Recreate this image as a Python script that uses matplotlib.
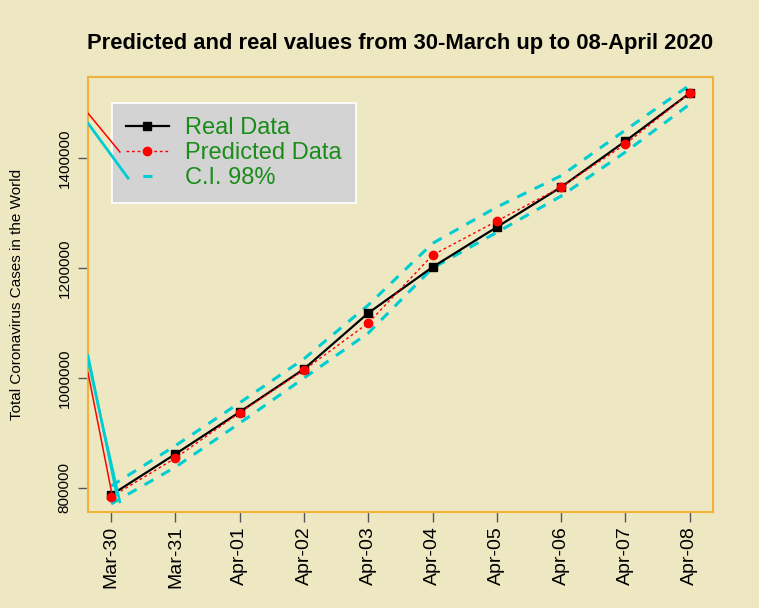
"""Predicted vs real world coronavirus cases, 30 March - 08 April 2020."""

import matplotlib

matplotlib.use("Agg")
import matplotlib.pyplot as plt
from matplotlib.lines import Line2D

dates = ["Mar-30", "Mar-31", "Apr-01", "Apr-02", "Apr-03",
         "Apr-04", "Apr-05", "Apr-06", "Apr-07", "Apr-08"]
real = [787300, 861800, 938200, 1016400, 1118200,
        1201800, 1274500, 1347300, 1430900, 1518200]
predicted = [783600, 854500, 937000, 1014500, 1100000,
             1223600, 1285500, 1347300, 1425500, 1518200]
ci_upper = [803600, 877000, 955000, 1035000, 1132700,
            1245000, 1311000, 1368000, 1451000, 1532700]
ci_lower = [771000, 838000, 918000, 1000000, 1081800,
            1200000, 1265000, 1331000, 1411000, 1498000]

BG = "#EEE8C2"
BOX = "#F0B23A"
CYAN = "#00CDD2"
GREEN = "#1A8C1A"

plt.rcParams["font.family"] = ["Liberation Sans", "DejaVu Sans"]

fig = plt.figure(figsize=(7.59, 6.08), dpi=100, facecolor=BG)
ax = fig.add_axes([0.116, 0.158, 0.823, 0.715], facecolor=BG)

x = list(range(len(dates)))
ax.plot(x, ci_upper, color=CYAN, lw=2.2, dashes=(3.3, 3), zorder=2)
ax.plot(x, ci_lower, color=CYAN, lw=2.2, dashes=(3.3, 3), zorder=2)
ax.plot(x, real, color="black", lw=1.6, marker="s", ms=5.5, zorder=3)
ax.plot(x, predicted, color="red", lw=1, ls=(0, (2, 2)), marker="o",
        ms=6, zorder=4)

# stray segments visible in the original image near the left border
stray = [
    ("red", 1.1, (0.0, 0.038), (0.32, 0.043)),
    (CYAN, 1.8, (0.0, 0.046), (0.360, 0.039)),
    (CYAN, 1.8, (0.0, 0.051), (0.348, 0.023)),
    ("red", 1.1, (0.0, 0.051), (0.917, 0.828)),
    (CYAN, 2.0, (0.0, 0.064), (0.894, 0.768)),
]
for col, lw, xs, ys in stray:
    ax.add_line(Line2D(xs, ys, color=col, lw=lw, transform=ax.transAxes,
                       zorder=10))

ax.set_xlim(-0.36, 9.36)
ax.set_ylim(756400, 1547300)
ax.set_xticks(x)
ax.set_xticklabels(dates, rotation=90, fontsize=14)
ax.set_yticks([800000, 1000000, 1200000, 1400000])
ax.set_yticklabels(["800000", "1000000", "1200000", "1400000"],
                   rotation=90, va="center", fontsize=11)
ax.tick_params(axis="both", direction="out", length=7, width=1,
               color="#555555", pad=3)
ax.tick_params(axis="y", pad=5)
for sp in ax.spines.values():
    sp.set_color(BOX)
    sp.set_linewidth(1.5)

ax.set_ylabel("Total Coronavirus Cases in the World", fontsize=11,
              labelpad=24)
fig.suptitle("Predicted and real values from 30-March up to 08-April 2020",
             x=0.527, y=0.945, fontsize=15.8, fontweight="bold")

handles = [
    Line2D([], [], color="black", lw=1.6, marker="s", ms=5.5),
    Line2D([], [], color="red", lw=1, ls=(0, (2, 2)), marker="o", ms=6),
    Line2D([], [], color=CYAN, lw=2.2, ls=(0, (0, 5.5, 3, 30))),
]
leg = ax.legend(handles, ["Real Data", "Predicted Data", "C.I. 98%"],
                loc="upper left", bbox_to_anchor=(0.0384, 0.940),
                fontsize=17, frameon=True, fancybox=False, framealpha=1,
                facecolor="#D3D3D3", edgecolor="white", labelcolor=GREEN,
                handlelength=1.8, handletextpad=0.7, borderpad=0.6,
                labelspacing=0.12, borderaxespad=0)
leg.get_frame().set_linewidth(1.2)
leg.set_zorder(8)

fig.savefig("out.png", dpi=100, facecolor=BG)
